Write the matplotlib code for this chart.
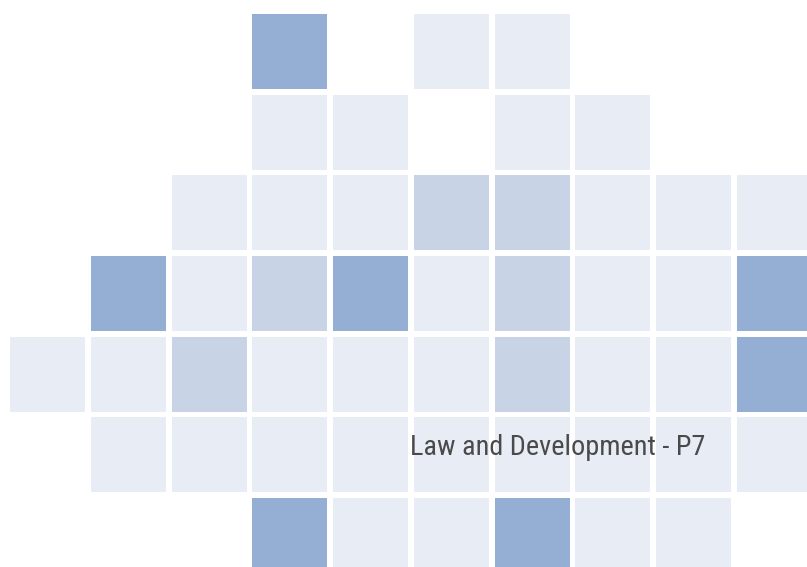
import matplotlib
matplotlib.use("Agg")
import matplotlib.pyplot as plt
from matplotlib.patches import Rectangle
from matplotlib import font_manager as fm

# Cell levels: 0 = empty, 1 = light, 2 = medium, 3 = dark
row1 = [0, 0, 0, 3, 0, 1, 1, 0, 0, 0]
row2 = [0, 0, 0, 1, 1, 0, 1, 1, 0, 0]
row3 = [0, 0, 1, 1, 1, 2, 2, 1, 1, 1]
row4 = [0, 3, 1, 2, 3, 1, 2, 1, 1, 3]
row5 = [1, 1, 2, 1, 1, 1, 2, 1, 1, 3]
row6 = [0, 1, 1, 1, 1, 1, 1, 1, 1, 1]
row7 = [0, 0, 0, 3, 1, 1, 3, 1, 1, 0]
grid = [row1, row2, row3, row4, row5, row6, row7]

title = "Law and Development - P7"

level_colors = {1: "#e8edf5", 2: "#c8d4e6", 3: "#95afd4"}

# pick a condensed font if available
names = {f.name for f in fm.fontManager.ttflist}
family = "DejaVu Sans"
for cand in ["Roboto Condensed", "Liberation Sans Narrow", "Arial Narrow",
             "Open Sans Condensed", "DejaVu Sans Condensed"]:
    if cand in names:
        family = cand
        break

W, H = 807, 567
fig = plt.figure(figsize=(W / 100, H / 100), dpi=100)
ncols, nrows = len(row1), len(grid)
px_x, px_y = 80.75, 80.67
left_px, top_px = 10, 14
ax = fig.add_axes([left_px / W,
                   1 - (top_px + nrows * px_y) / H,
                   ncols * px_x / W,
                   nrows * px_y / H])
ax.set_xlim(0, ncols)
ax.set_ylim(nrows, 0)
ax.axis("off")

cw = 75 / px_x
ch = 75 / px_y
for r, row in enumerate(grid):
    for c, v in enumerate(row):
        if v:
            ax.add_patch(Rectangle((c, r), cw, ch, facecolor=level_colors[v],
                                   edgecolor="none"))

ax.text((410 - left_px) / px_x, (455 - top_px) / px_y, title,
        fontsize=20.3, color="#4a4a4a", family=family, fontstretch="condensed",
        ha="left", va="baseline")

fig.savefig("out.png", dpi=100)
